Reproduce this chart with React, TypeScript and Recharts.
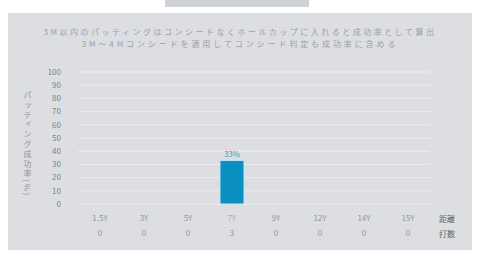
import * as React from 'react'
import { BarChart, Bar, XAxis, YAxis, CartesianGrid, LabelList } from 'recharts'

const distances = ['1.5Y', '3Y', '5Y', '7Y', '9Y', '12Y', '14Y', '15Y']
const successRates = [0, 0, 0, 33, 0, 0, 0, 0]
const strokes = [0, 0, 0, 3, 0, 0, 0, 0]
const yTicks = [0, 10, 20, 30, 40, 50, 60, 70, 80, 90, 100]
const highlight = '7Y'

const titleLines = [
  '3M以内のパッティングはコンシードなくホールカップに入れると成功率として算出',
  '3M〜4Mコンシードを適用してコンシード判定も成功率に含める',
]

const data = distances.map((d, i) => ({ label: d, rate: successRates[i], count: strokes[i] }))

const font = '"Noto Sans CJK JP", "Noto Sans", sans-serif'

const DistanceTick = ({ x, y, payload, index }: any) => {
  const isHi = payload.value === highlight
  return (
    <g>
      <text x={x} y={y + 9} textAnchor="middle" fontSize={8} fill={isHi ? '#dc98a2' : '#94979c'} fontFamily={font}>
        {payload.value}
      </text>
      <text x={x} y={y + 24} textAnchor="middle" fontSize={8} fill="#94979c" fontFamily={font}>
        {strokes[index]}
      </text>
    </g>
  )
}

export default function App() {
  return (
    <div style={{ position: 'fixed', left: 0, top: 0, width: 479, height: 254, background: '#fff', fontFamily: font }}>
      <div style={{ position: 'absolute', left: 165, top: 0, width: 144, height: 7, background: '#cfd2d6' }} />
      <div style={{ position: 'absolute', left: 8, top: 13, width: 464, height: 237, background: '#dcdee2' }} />
      {titleLines.map((t, i) => (
        <div
          key={i}
          style={{
            position: 'absolute', left: 8, width: 464, top: 27 + i * 12, textAlign: 'center',
            fontSize: 8, lineHeight: '10px', letterSpacing: i === 0 ? 2.5 : 2.9, color: '#9c9fa4', whiteSpace: 'nowrap',
          }}
        >
          {t}
        </div>
      ))}
      <div
        style={{
          position: 'absolute', left: 22, top: 91, writingMode: 'vertical-rl', fontSize: 8,
          letterSpacing: 1.8, color: '#909398', lineHeight: '10px',
        }}
      >
        パッティング成功率(%)
      </div>
      <div style={{ position: 'absolute', left: 439, top: 213, fontSize: 8, color: '#60636a' }}>距離</div>
      <div style={{ position: 'absolute', left: 439, top: 228, fontSize: 8, color: '#60636a' }}>打数</div>
      <div style={{ position: 'absolute', left: 0, top: 0 }}>
        <BarChart width={479} height={254} data={data} margin={{ top: 72, right: 49, left: 0, bottom: 10 }}>
          <CartesianGrid vertical={false} stroke="#eceef1" />
          <XAxis dataKey="label" axisLine={false} tickLine={false} height={40} interval={0} tick={<DistanceTick />} />
          <YAxis
            width={78}
            domain={[0, 100]}
            ticks={yTicks}
            axisLine={false}
            tickLine={false}
            tickMargin={11}
            interval={0}
            tick={{ fontSize: 8, fill: '#7e8187', fontFamily: font }}
          />
          <Bar dataKey="rate" fill="#0a8fc0" stroke="#bfe6f5" strokeWidth={1} barSize={24} isAnimationActive={false}>
            <LabelList
              dataKey="rate"
              position="top"
              offset={3}
              formatter={(v: any) => (v > 0 ? `${v}%` : '')}
              style={{ fontSize: 8, fill: '#3b9bd6', fontFamily: font }}
            />
          </Bar>
        </BarChart>
      </div>
    </div>
  )
}
